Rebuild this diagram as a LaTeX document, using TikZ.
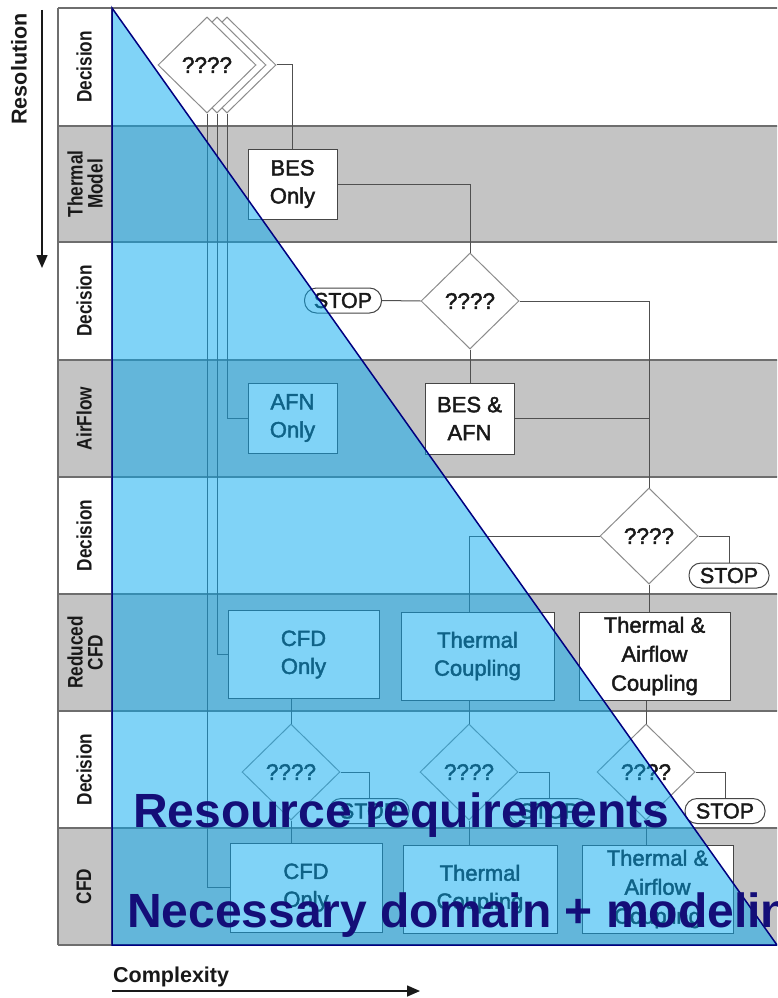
\documentclass[tikz,border=0pt]{standalone}
\usepackage{fontspec}
\setmainfont{Liberation Sans}
\newfontfamily\narrowfont[FakeStretch=0.82]{Liberation Sans}
\newfontfamily\heavyfont[FakeBold=2]{Liberation Sans}
\usetikzlibrary{shapes.geometric,arrows.meta}
\definecolor{bandgray}{RGB}{196,196,196}
\definecolor{rulegray}{RGB}{110,110,110}
\definecolor{wiregray}{RGB}{80,80,80}
\definecolor{diaggray}{RGB}{140,140,140}
\definecolor{boxedge}{RGB}{70,70,70}
\definecolor{wedgeblue}{RGB}{6,170,241}
\definecolor{wedgeedge}{RGB}{0,0,128}
\definecolor{bignavy}{RGB}{20,14,120}
\definecolor{inkgray}{RGB}{25,25,25}

\tikzset{
  flowbox/.style={draw=boxedge, fill=white, line width=1pt, align=center, inner sep=0pt,
    text=inkgray, font=\heavyfont\fontsize{22}{28}\selectfont},
  tallbox/.style={flowbox, font=\heavyfont\fontsize{22}{29}\selectfont},
  ask/.style={diamond, draw=diaggray, fill=white, line width=1pt, inner sep=0pt,
    minimum width=98pt, minimum height=96pt, text=inkgray,
    font=\heavyfont\fontsize{22.5}{25}\selectfont},
  stopper/.style={draw=boxedge, fill=white, rounded corners=12pt, line width=1pt,
    minimum width=80pt, minimum height=25pt, inner sep=0pt, text=inkgray,
    font=\heavyfont\fontsize{21.5}{25}\selectfont},
  lanelabel/.style={rotate=90, align=center, inner sep=0pt, text=inkgray,
    font=\narrowfont\bfseries\fontsize{21}{20}\selectfont},
  wire/.style={draw=wiregray, line width=1pt},
  lanerule/.style={draw=rulegray, line width=1.2pt},
  axisline/.style={draw=inkgray, line width=1.5pt, -{Triangle[width=11pt,length=13pt]}},
  axislabel/.style={inner sep=0pt, text=inkgray, font=\bfseries\fontsize{21.5}{24}\selectfont},
  bigtext/.style={inner sep=0pt, text=bignavy, font=\bfseries\fontsize{48}{52}\selectfont}
}

\begin{document}
\begin{tikzpicture}[x=1pt,y=-1pt]
\useasboundingbox (0,0) rectangle (777,998);
\clip (0,0) rectangle (777,998);
\fill[white] (0,0) rectangle (777,998);

% swim lanes
\foreach \t/\b in {126/242,360/477,594/711,828/945}
  \fill[bandgray] (58,\t) rectangle (790,\b);
\foreach \y in {8,126,242,360,477,594,711,828,945}
  \draw[lanerule] (58,\y) -- (790,\y);
\draw[lanerule] (58,8) -- (58,945) (112,8) -- (112,945);

% lane titles
\node[lanelabel] (lane1) at (84,67) {Decision};
\node[lanelabel] (lane2) at (85,184) {Thermal\\Model};
\node[lanelabel] (lane3) at (84,301) {Decision};
\node[lanelabel] (lane4) at (84,418.5) {AirFlow};
\node[lanelabel] (lane5) at (84,535.5) {Decision};
\node[lanelabel] (lane6) at (85,652.5) {Reduced\\CFD};
\node[lanelabel] (lane7) at (84,769.5) {Decision};
\node[lanelabel] (lane8) at (84,886.5) {CFD};

% first decision, stacked
\node[ask] (q1c) at (227,65) {};
\node[ask] (q1b) at (217,65) {};
\node[ask] (q1) at (207,65) {????};

% thermal model
\node[flowbox, minimum width=89pt, minimum height=70pt] (besonly) at (292.5,184) {BES\\Only};

% second decision
\node[ask] (q2) at (470,301) {????};
\node[stopper, minimum width=77pt] (stop2) at (343,300.5) {STOP};

% airflow
\node[flowbox, minimum width=89pt, minimum height=70pt] (afnonly) at (292.5,418) {AFN\\Only};
\node[flowbox, minimum width=89pt, minimum height=71pt] (besafn) at (469.5,418.5) {BES \&\\AFN};

% third decision
\node[ask] (q3) at (649,536) {????};
\node[stopper] (stop3) at (729,575.5) {STOP};

% reduced CFD
\node[flowbox, minimum width=151pt, minimum height=88pt] (cfdred) at (303.5,654.5) {CFD\\Only};
\node[flowbox, minimum width=153pt, minimum height=88pt] (thred) at (477.5,656) {Thermal\\Coupling};
\node[tallbox, minimum width=151pt, minimum height=88pt] (tared) at (654.5,656) {Thermal \&\\Airflow\\Coupling};

% fourth decision
\node[ask] (q4) at (291,772) {????};
\node[ask] (q5) at (469,772) {????};
\node[ask] (q6) at (646,772) {????};
\node[stopper] (stop4) at (369,811) {STOP};
\node[stopper] (stop5) at (549,811) {STOP};
\node[stopper] (stop6) at (725,811) {STOP};

% full CFD
\node[flowbox, minimum width=152pt, minimum height=89pt] (cfd) at (306,887.5) {CFD\\Only};
\node[flowbox, minimum width=154pt, minimum height=88pt] (thc) at (480,889) {Thermal\\Coupling};
\node[tallbox, minimum width=151pt, minimum height=88pt] (tac) at (657.5,889) {Thermal \&\\Airflow\\Coupling};

% connectors
\draw[wire] (q1c.east) -| (besonly.north);
\draw[wire] (besonly.east) -| (q2.north);
\draw[wire] (stop2.east) -- (q2.west);
\draw[wire] (q2.south) -- (q2.south |- besafn.north);
\draw[wire] (q2.east) -| (q3.north);
\draw[wire] (besafn.east) -- (besafn.east -| q3.north);
\draw[wire] (q1c.south) |- (afnonly.west);
\draw[wire] (q1b.south) |- (cfdred.west);
\draw[wire] (q1.south) |- (cfd.west);
\draw[wire] (q3.west) -| (q5.north |- thred.north);
\draw[wire] (q3.south) -- (q3.south |- tared.north);
\draw[wire] (q3.east) -| (stop3.north);
\draw[wire] (q4.north |- cfdred.south) -- (q4.north);
\draw[wire] (q5.north |- thred.south) -- (q5.north);
\draw[wire] (q6.north |- tared.south) -- (q6.north);
\draw[wire] (q4.east) -| (stop4.north);
\draw[wire] (q5.east) -| (stop5.north);
\draw[wire] (q6.east) -| (stop6.north);
\draw[wire] (q4.south) -- (q4.south |- cfd.north);
\draw[wire] (q5.south) -- (q5.south |- thc.north);
\draw[wire] (q6.south) -- (q6.south |- tac.north);

% axes
\coordinate (resTop) at (42,10);
\coordinate (resTip) at (42,268);
\draw[axisline] (resTop) -- (resTip);
\node[axislabel, rotate=90] (restext) at (19,69) {Resolution};
\coordinate (cxStart) at (112,991);
\coordinate (cxTip) at (420,991);
\draw[axisline] (cxStart) -- (cxTip);
\node[axislabel, anchor=base west] (cxtext) at (113,982) {Complexity};

% effort wedge
\fill[wedgeblue, fill opacity=0.51] (112,8) -- (112,945) -- (777,945) -- cycle;
\draw[wedgeedge, line width=1.5pt, line join=miter] (112,8) -- (112,945) -- (777,945) -- cycle;

\node[bigtext, anchor=base west] (resreq) at (133,827) {Resource requirements};
\node[bigtext, anchor=base west] (domain) at (127,927) {Necessary domain + modeling};
\end{tikzpicture}
\end{document}
